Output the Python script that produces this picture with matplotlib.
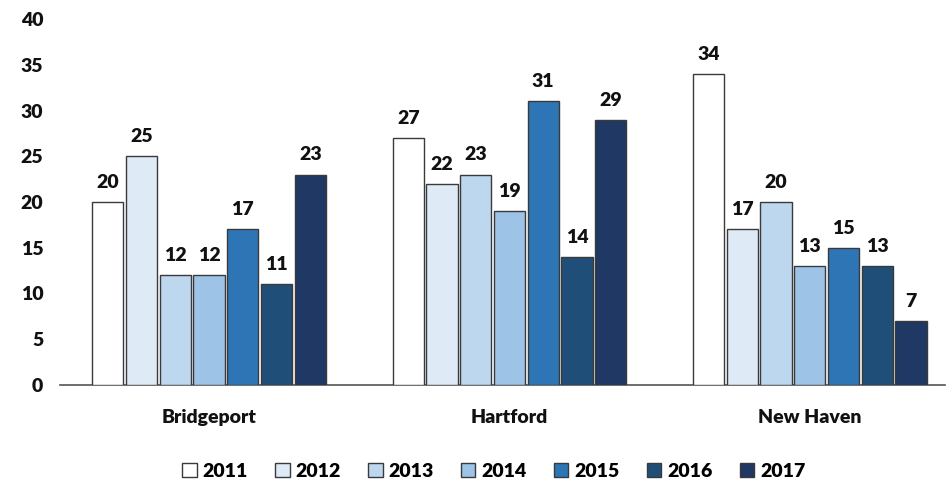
import numpy as np
import matplotlib
matplotlib.use("Agg")
import matplotlib.pyplot as plt

plt.rcParams["font.family"] = ["Lato", "DejaVu Sans"]
plt.rcParams["font.weight"] = "bold"

cities = ["Bridgeport", "Hartford", "New Haven"]
years = ["2011", "2012", "2013", "2014", "2015", "2016", "2017"]
v2011 = [20, 27, 34]
v2012 = [25, 22, 17]
v2013 = [12, 23, 20]
v2014 = [12, 19, 13]
v2015 = [17, 31, 15]
v2016 = [11, 14, 13]
v2017 = [23, 29, 7]
series = [v2011, v2012, v2013, v2014, v2015, v2016, v2017]
colors = ["#ffffff", "#deeaf6", "#bdd7ee", "#9dc3e6", "#2e75b6", "#1f4e79", "#203864"]

fig = plt.figure(figsize=(9.49, 4.87), dpi=100)
ax = fig.add_axes([60/949, 102/487, 885/949, 366/487])

x = np.arange(len(cities))
step, w = 0.1123, 0.104
for i, (yr, vals, c) in enumerate(zip(years, series, colors)):
    xs = x + (i - 3) * step
    bars = ax.bar(xs, vals, width=w, color=c, edgecolor="#3a3a3a", lw=1.0, label=yr, zorder=3)
    for b, v in zip(bars, vals):
        ax.annotate(str(v), (b.get_x() + b.get_width()/2, v), xytext=(0, 8),
                    textcoords="offset points", ha="center", va="bottom",
                    fontsize=14, fontweight="heavy", color="#111")

ax.set_xlim(-0.496, 2.45)
ax.set_ylim(0, 40)
ax.set_yticks(range(0, 41, 5))
ax.set_xticks(x)
ax.set_xticklabels(cities, fontsize=14, fontweight="heavy")
for t in ax.get_yticklabels():
    t.set_fontweight("heavy")
ax.tick_params(axis="both", length=0, labelsize=14, colors="#111")
ax.tick_params(axis="x", pad=17)
ax.tick_params(axis="y", pad=12)
for s in ["top", "right", "left"]:
    ax.spines[s].set_visible(False)
ax.spines["bottom"].set_color("#555")
ax.spines["bottom"].set_linewidth(1.2)

leg = ax.legend(loc="upper center", bbox_to_anchor=(0.49, -0.165), ncol=7, frameon=False,
                fontsize=14, handlelength=0.75, handleheight=0.75, handletextpad=0.3,
                columnspacing=1.4)
for t in leg.get_texts():
    t.set_fontweight("heavy")

fig.savefig("out.png", dpi=100)
